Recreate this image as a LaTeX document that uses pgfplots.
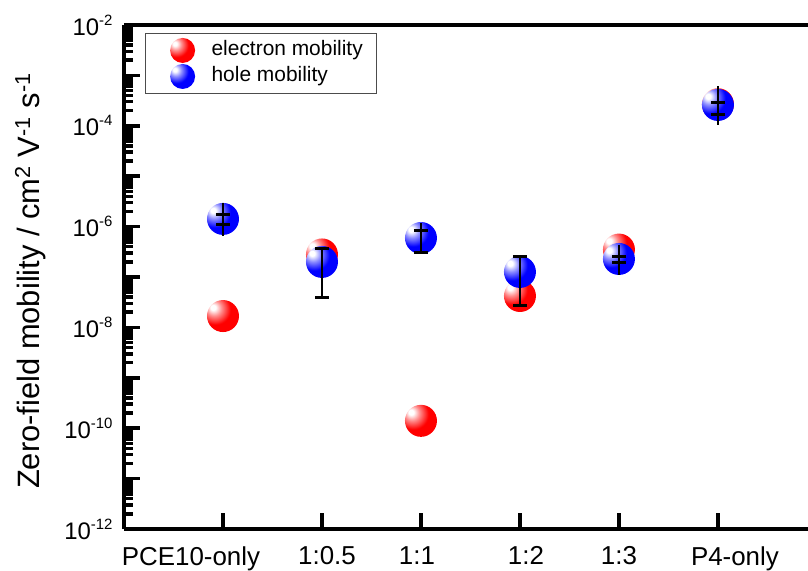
\documentclass[border=0pt]{standalone}
\usepackage{pgfplots}
\pgfplotsset{compat=1.18}
\usepackage{fontspec}
\setmainfont{Liberation Sans}
\def\mylist{}
\foreach \e in {-12,...,-3}{\foreach \k in {2,...,9}{\xdef\mylist{\mylist\k e\e,}}}
\pgfdeclareradialshading{redshade}{\pgfpoint{-16bp}{14bp}}{color(0bp)=(white); color(4bp)=(white); color(12bp)=(red!45!white); color(24bp)=(red); color(100bp)=(red)}
\pgfdeclareradialshading{blueshade}{\pgfpoint{-16bp}{14bp}}{color(0bp)=(white); color(4bp)=(white); color(12bp)=(blue!45!white); color(24bp)=(blue); color(100bp)=(blue)}
\pgfdeclareplotmark{redball}{\pgfpathcircle{\pgfpointorigin}{\pgfplotmarksize}\pgfshadepath{redshade}{0}\pgfusepath{discard}}
\pgfdeclareplotmark{blueball}{\pgfpathcircle{\pgfpointorigin}{\pgfplotmarksize}\pgfshadepath{blueshade}{0}\pgfusepath{discard}}
\newcommand{\sexp}[1]{10\raisebox{0.42em}{\fontsize{15}{15}\selectfont #1}}
\begin{document}
\begin{tikzpicture}
\begin{axis}[
  name=ax,
  set layers,
  scale only axis,
  width=684bp, height=504bp,
  xmin=0, xmax=6.91,
  ymode=log, ymin=1e-12, ymax=1e-2,
  axis lines*=left,
  axis line style={line width=4.5bp},
  xtick={1,2,3,4,5,6},
  xticklabels={\kern-64bp PCE10-only,\kern10bp 1:0.5,\kern-8bp 1:1,\kern12bp 1:2,1:3,\kern34bp P4-only},
  ytick={1e-12,1e-10,1e-8,1e-6,1e-4,1e-2},
  yticklabels={\sexp{-12},\sexp{-10},\sexp{-8},\sexp{-6},\sexp{-4},\sexp{-2}},
  extra y ticks={1e-11,1e-9,1e-7,1e-5,1e-3},
  extra y tick labels={},
  minor ytick/.expanded={\mylist 1e-2},
  tick align=inside,
  major tick length=16bp,
  minor tick length=9bp,
  every tick/.style={black, line width=3.5bp},
  x tick label style={font=\fontsize{26}{28}\selectfont, yshift=-14bp},
  y tick label style={font=\fontsize{24}{28}\selectfont, xshift=-8bp},
  ylabel={Zero-field mobility / cm\textsuperscript{2} V\textsuperscript{-1} s\textsuperscript{-1}},
  ylabel style={font=\fontsize{31}{33}\selectfont, yshift=12bp, xshift=-4bp},
  legend style={at={(rel axis cs:0.031,0.984)}, anchor=north west, draw=black!70, line width=0.8pt,
    font=\fontsize{21}{24}\selectfont, inner xsep=10bp, inner ysep=4bp,
    nodes={inner xsep=4bp, inner ysep=3bp, text height=15bp, text depth=5bp}, cells={anchor=west}},
  legend image code/.code={\path[draw=none,fill=none] (-27bp,-12bp) rectangle (25bp,12bp); \draw[#1, mark size=12.5bp] plot coordinates {(0bp,0bp)};},
  clip=false,
]
\addplot[only marks, mark=redball, mark size=16bp]
 coordinates {(1,1.68e-8) (2,2.8e-7) (3,1.4e-10) (4,4.2e-8) (5,3.5e-7) (6,2.68e-4)};
\addlegendentry{electron mobility}
\addplot[only marks, mark=blueball, mark size=16bp]
 coordinates {(1,1.42e-6) (2,1.99e-7) (3,5.94e-7) (4,1.26e-7) (5,2.28e-7) (6,2.59e-4)};
\addlegendentry{hole mobility}
% full extent of the error bars (no caps)
\addplot[draw=none, mark=none, forget plot, on layer=axis foreground,
  error bars/.cd, y dir=both, y explicit, error mark=none,
  error bar style={line width=2.6bp, black}]
 coordinates {
 (1,1.42e-6) += (0,1.52e-6) -= (0,7.7e-7)
 (2,1.99e-7) += (0,1.61e-7) -= (0,1.59e-7)
 (3,5.94e-7) += (0,5.86e-7) -= (0,2.94e-7)
 (4,1.26e-7) += (0,1.34e-7) -= (0,0.994e-7)
 (5,2.28e-7) += (0,2.02e-7) -= (0,1.18e-7)
 (6,2.59e-4) += (0,3.51e-4) -= (0,1.55e-4)
 };
% caps
\addplot[draw=none, mark=none, forget plot, on layer=axis foreground,
  error bars/.cd, y dir=both, y explicit,
  error bar style={line width=2.6bp, black},
  error mark options={rotate=90, mark size=7bp, line width=3bp, black}]
 coordinates {
 (1,1.42e-6) += (0,2.8e-7) -= (0,3.4e-7)
 (2,1.99e-7) += (0,1.61e-7) -= (0,1.59e-7)
 (3,5.94e-7) += (0,2.26e-7) -= (0,2.94e-7)
 (4,1.26e-7) += (0,1.34e-7) -= (0,0.994e-7)
 (5,2.28e-7) += (0,2.2e-8) -= (0,3.8e-8)
 (6,2.59e-4) += (0,3.7e-5) -= (0,9.5e-5)
 };
\draw[line width=4.5bp] (rel axis cs:0,1) -- (rel axis cs:1,1);
\coordinate (bl) at (rel axis cs:0,0);
\coordinate (tr) at (rel axis cs:1,1);
\end{axis}
\pgfresetboundingbox
\path ([shift={(-124bp,-42bp)}]bl) rectangle ([shift={(0bp,25bp)}]tr);
\end{tikzpicture}
\end{document}
